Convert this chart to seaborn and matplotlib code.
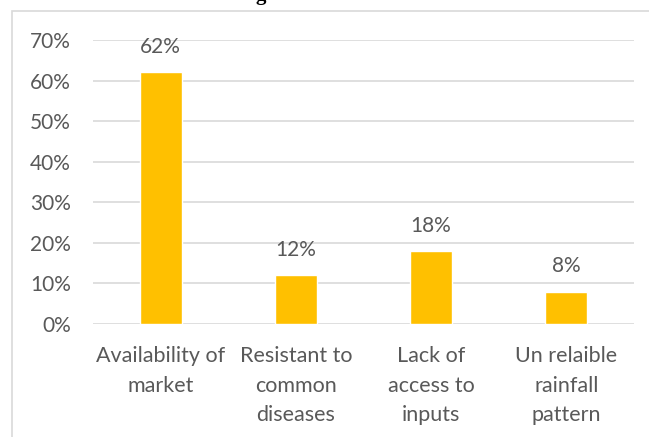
import matplotlib
matplotlib.use("Agg")
import matplotlib.pyplot as plt
import matplotlib.patches as mpatches
from matplotlib.ticker import PercentFormatter
import seaborn as sns
import pandas as pd

categories = ["Availability of\nmarket", "Resistant to\ncommon\ndiseases",
              "Lack of\naccess to\ninputs", "Un relaible\nrainfall\npattern"]
values = [62, 12, 18, 8]
value_labels = ["62%", "12%", "18%", "8%"]
y_ticks = [0, 10, 20, 30, 40, 50, 60, 70]

sns.set_theme(style="white")
plt.rcParams["font.family"] = ["Lato", "DejaVu Sans"]

text_color = "#595959"
grid_color = "#D9D9D9"
bar_color = "#FFC000"

W, H = 649, 437
fig = plt.figure(figsize=(W / 100, H / 100), dpi=100)
fig.patch.set_facecolor("white")

# chart frame
fig.patches.append(mpatches.Rectangle((12 / W, -0.05), 1.0, 1 - 11 / H + 0.05,
                                      transform=fig.transFigure, fill=False,
                                      edgecolor=grid_color, linewidth=1.2))

# title (cut off at the top edge)
fig.text(261 / W, 1.0, "g", family="Liberation Serif", fontweight="bold",
         fontsize=15, ha="center", va="baseline", color="black")

left, right, bottom, top = 93 / W, 634 / W, (H - 324) / H, (H - 40) / H
ax = fig.add_axes([left, bottom, right - left, top - bottom])

df = pd.DataFrame({"cat": categories, "val": values})
sns.barplot(data=df, x="cat", y="val", color=bar_color, width=0.31,
            saturation=1, ax=ax, zorder=3)

ax.set_ylim(0, 70)
ax.set_yticks(y_ticks)
ax.yaxis.set_major_formatter(PercentFormatter(decimals=0))
ax.set_xlim(-0.5, len(categories) - 0.5)
ax.grid(axis="y", color=grid_color, linewidth=1.2, zorder=0)
ax.grid(axis="x", visible=False)
for s in ax.spines.values():
    s.set_visible(False)
ax.set_xlabel("")
ax.set_ylabel("")
ax.tick_params(axis="y", length=0, pad=16, labelsize=15, labelcolor=text_color)
ax.tick_params(axis="x", length=0, pad=16, labelsize=15.5, labelcolor=text_color)
for lbl in ax.get_xticklabels():
    lbl.set_linespacing(1.6)

for i, (v, t) in enumerate(zip(values, value_labels)):
    ax.annotate(t, (i, v), xytext=(0, 11), textcoords="offset points",
                ha="center", va="bottom", fontsize=15, color=text_color)

fig.savefig("out.png", dpi=100)
